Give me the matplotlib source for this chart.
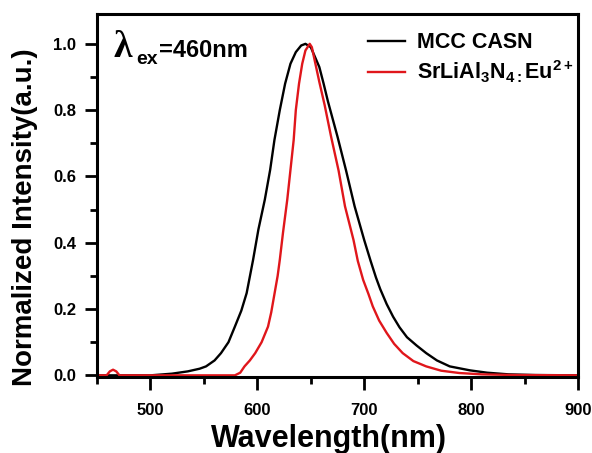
import numpy as np
import matplotlib
matplotlib.use("Agg")
import matplotlib.pyplot as plt
from matplotlib.ticker import MultipleLocator

plt.rcParams['font.family'] = ['Liberation Sans', 'DejaVu Sans']
plt.rcParams['font.weight'] = 'bold'
plt.rcParams['mathtext.fontset'] = 'custom'
plt.rcParams['mathtext.rm'] = 'Liberation Sans:bold'
plt.rcParams['mathtext.it'] = 'Liberation Sans:bold'
plt.rcParams['mathtext.bf'] = 'Liberation Sans:bold'

# MCC CASN spectrum
casn_wl = [450, 500, 520, 535, 546, 552, 560, 566, 573, 579, 585, 590, 596, 601, 607,
           612, 616, 621, 626, 631, 636, 641, 645, 650, 654, 658, 662, 666, 675, 683,
           691, 700, 706, 711, 715, 721, 727, 733, 740, 749, 758, 768, 780, 799, 815,
           835, 860, 900]
casn_int = [0.0, 0.0, 0.005, 0.012, 0.020, 0.027, 0.045, 0.067, 0.100, 0.147, 0.195,
            0.248, 0.348, 0.440, 0.530, 0.620, 0.710, 0.800, 0.880, 0.940, 0.975, 0.995,
            1.000, 0.990, 0.960, 0.930, 0.880, 0.827, 0.720, 0.618, 0.510, 0.408, 0.345,
            0.295, 0.260, 0.215, 0.177, 0.145, 0.115, 0.090, 0.067, 0.045, 0.027, 0.015,
            0.008, 0.003, 0.001, 0.0]

# SrLiAl3N4:Eu2+ spectrum
sla_wl = [450, 459, 462, 465, 468, 471, 579, 584, 588, 593, 598, 604, 610, 613, 616,
          619, 621, 624, 628, 631, 634, 636, 639, 642, 645, 649, 651, 654, 658, 663,
          669, 676, 682, 690, 694, 699, 704, 708, 714, 721, 728, 736, 746, 758, 772,
          789, 810, 840, 900]
sla_int = [0.0, 0.0, 0.012, 0.017, 0.012, 0.0, 0.0, 0.008, 0.027, 0.045, 0.067, 0.100,
           0.147, 0.190, 0.245, 0.300, 0.348, 0.430, 0.530, 0.620, 0.710, 0.800, 0.880,
           0.940, 0.980, 1.000, 0.990, 0.945, 0.885, 0.815, 0.720, 0.618, 0.510, 0.408,
           0.345, 0.288, 0.245, 0.208, 0.165, 0.128, 0.095, 0.067, 0.043, 0.027, 0.014,
           0.007, 0.003, 0.001, 0.0]

xticks = [500, 600, 700, 800, 900]
yticks = [0.0, 0.2, 0.4, 0.6, 0.8, 1.0]

W, H = 592, 453
fig = plt.figure(figsize=(W/100, H/100), dpi=100)
ax = fig.add_axes([97/W, 1-377/H, (578-97)/W, (377-14)/H])

ax.plot(casn_wl, casn_int, color='black', lw=1.7, label='MCC CASN')
ax.plot(sla_wl, sla_int, color='#e0161b', lw=1.7, label=r'SrLiAl$_3$N$_{4:}$Eu$^{2+}$')

ax.set_xlim(450, 900)
ax.set_ylim(-0.005, 1.09)
ax.set_xticks(xticks)
ax.set_yticks(yticks)
ax.set_yticklabels([f'{v:.1f}' for v in yticks])
ax.xaxis.set_minor_locator(MultipleLocator(50))
ax.yaxis.set_minor_locator(MultipleLocator(0.1))
ax.tick_params(which='major', direction='out', length=9, width=2, labelsize=12)
ax.tick_params(which='minor', direction='out', length=5, width=2)
ax.tick_params(axis='y', which='major', pad=6)
ax.tick_params(axis='x', which='major', pad=10)
for s in ax.spines.values():
    s.set_linewidth(2.2)

ax.set_xlabel('Wavelength(nm)', fontsize=22, fontweight='bold')
ax.xaxis.set_label_coords((329-97)/481, (377-424)/363)
ax.set_ylabel('Normalized Intensity(a.u.)', fontsize=20, fontweight='bold')
ax.yaxis.set_label_coords((38-97)/481, (377-217)/363)

# excitation label
fig.text(114/W, 1-57/H, 'λ', fontsize=27, family='Liberation Serif',
         fontweight='bold', va='baseline', ha='left')
fig.text(136/W, 1-64/H, 'ex', fontsize=14, fontweight='bold', va='baseline', ha='left')
fig.text(159/W, 1-57/H, '=460nm', fontsize=17, fontweight='bold', va='baseline', ha='left')

leg = ax.legend(loc='upper left', bbox_to_anchor=((362-97)/481, (377-26)/363),
                frameon=False, fontsize=15.5, handlelength=1.7, handletextpad=0.55,
                labelspacing=0.25, borderaxespad=0, borderpad=0.3)

fig.savefig('out.png', dpi=100)
